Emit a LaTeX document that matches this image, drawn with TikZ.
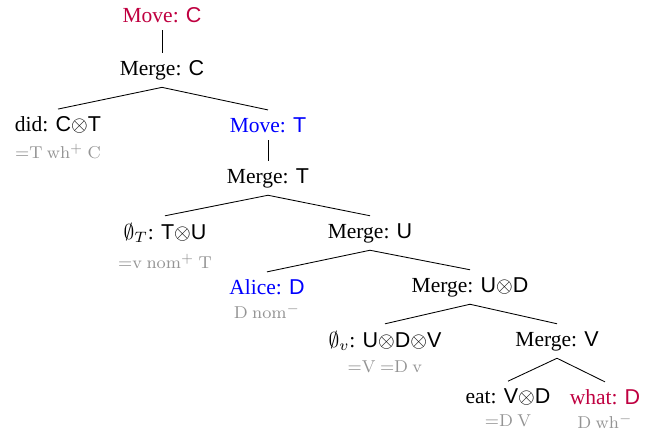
\documentclass[tikz,border=0pt]{standalone}
\usepackage{amsmath}
\usepackage{amssymb}
\usepackage[no-math]{fontspec}
\setmainfont{Liberation Serif}
\setsansfont{Liberation Sans}
\usetikzlibrary{positioning}
\definecolor{moverd}{rgb}{0.75,0,0.25}
\newcommand{\cat}[1]{\textsf{#1}}
\newcommand{\tens}{$\otimes$}
\newcommand{\feats}[1]{$\mathrm{#1}$}

\begin{document}
\begin{tikzpicture}[
  x=0.465pt, y=-0.465pt,
  op/.style    = {inner sep=3.3pt},
  lex/.style   = {inner sep=3.3pt},
  feat/.style  = {text=black!42, font=\footnotesize, inner sep=1pt},
  branch/.style= {thin}
]
\useasboundingbox (0,0) rectangle (651,432);

\node[op, text=moverd] (movec) at (162,15) {Move: \cat{C}};
\node[op] (mergec) at (162,70) {Merge: \cat{C}};

\node[lex] (did) at (58,125) {did: \cat{C}\tens\cat{T}};
\node[feat] (didf) at (58,151) {\feats{{=}T\ wh^{+}\ C}};

\node[op, text=blue] (movet) at (268,125) {Move: \cat{T}};
\node[op] (merget) at (268,178) {Merge: \cat{T}};

\node[lex] (emptyt) at (165,233) {$\emptyset_T$: \cat{T}\tens\cat{U}};
\node[feat] (emptytf) at (165,261) {\feats{{=}v\ nom^{+}\ T}};

\node[op] (mergeu) at (370,233) {Merge: \cat{U}};

\node[lex, text=blue] (alice) at (267,287) {Alice: \cat{D}};
\node[feat] (alicef) at (267,311) {\feats{D\ nom^{-}}};

\node[op] (mergeud) at (470,287) {Merge: \cat{U}\tens\cat{D}};

\node[lex] (emptyv) at (385,341) {$\emptyset_v$: \cat{U}\tens\cat{D}\tens\cat{V}};
\node[feat] (emptyvf) at (385,367) {\feats{{=}V\ {=}D\ v}};

\node[op] (mergev) at (557,341) {Merge: \cat{V}};

\node[lex] (eat) at (508,397) {eat: \cat{V}\tens\cat{D}};
\node[feat] (eatf) at (508,421) {\feats{{=}D\ V}};

\node[lex, text=moverd] (what) at (605,397) {what: \cat{D}};
\node[feat] (whatf) at (605,421) {\feats{D\ wh^{-}}};

\draw[branch] (movec) -- (mergec);
\draw[branch] (mergec.south) -- (did.north);
\draw[branch] (mergec.south) -- (movet.north);
\draw[branch] (movet) -- (merget);
\draw[branch] (merget.south) -- (emptyt.north);
\draw[branch] (merget.south) -- (mergeu.north);
\draw[branch] (mergeu.south) -- (alice.north);
\draw[branch] (mergeu.south) -- (mergeud.north);
\draw[branch] (mergeud.south) -- (emptyv.north);
\draw[branch] (mergeud.south) -- (mergev.north);
\draw[branch] (mergev.south) -- (eat.north);
\draw[branch] (mergev.south) -- (what.north);

\end{tikzpicture}
\end{document}
